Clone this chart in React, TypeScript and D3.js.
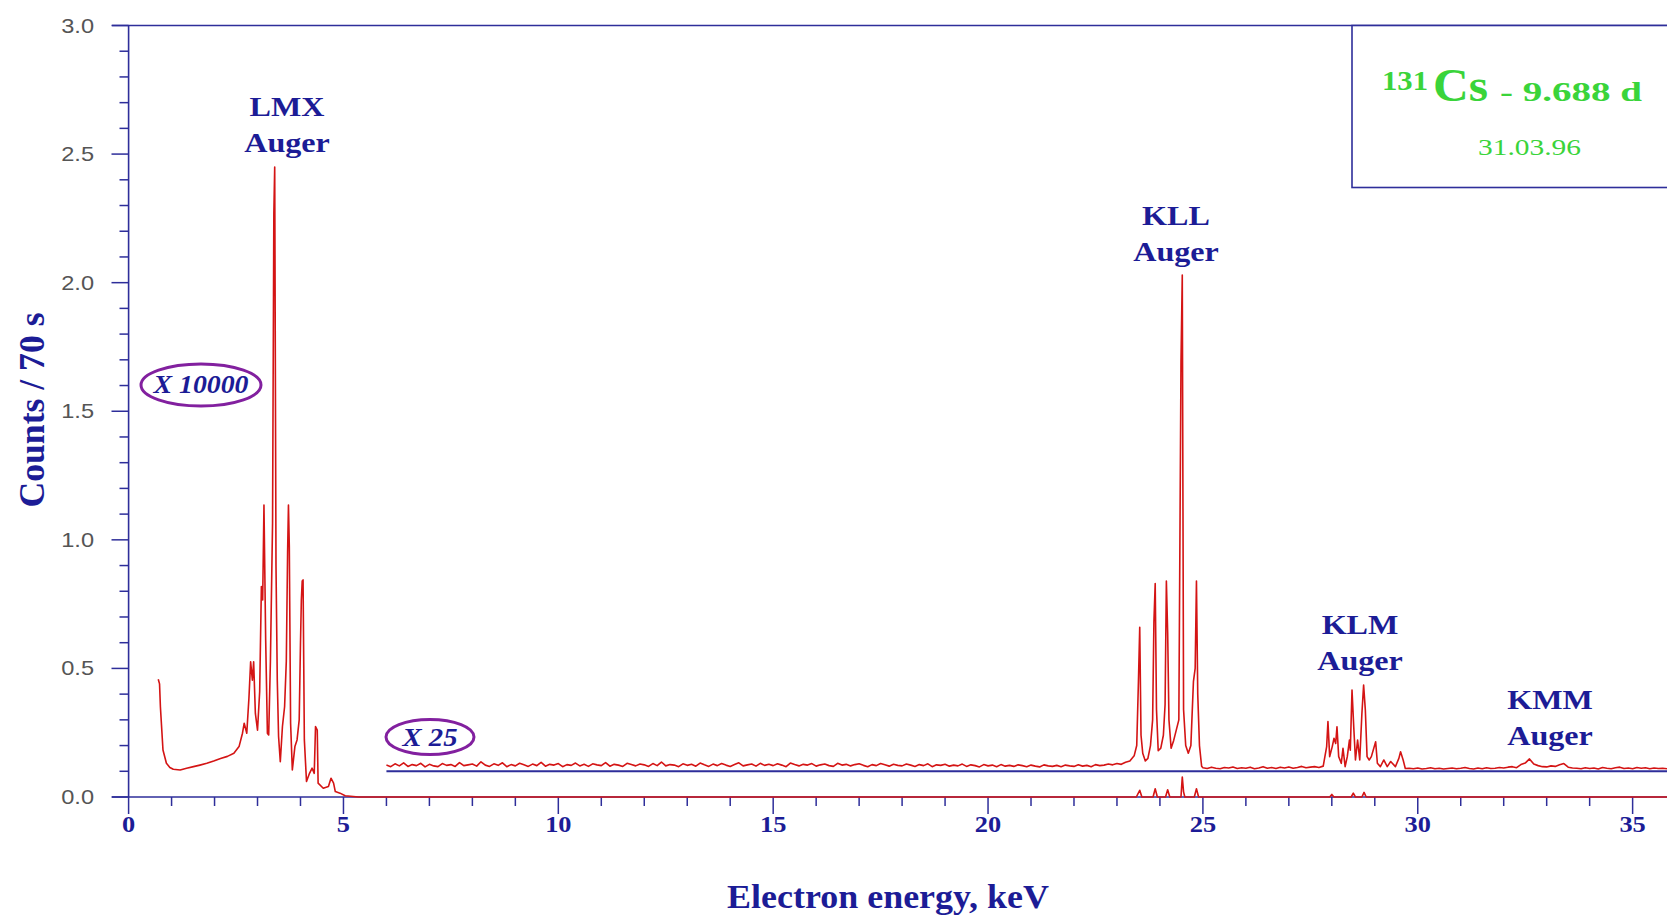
import React from "react";
import * as d3 from "d3";

const W = 1667;
const H = 918;
const MARGIN = { LEFT: 128.6, TOP: 25.5, BOTTOM: 797 };

// x10000 low-energy part (LMX Auger) that continues along zero as the raw spectrum
const lowEnergy: [number, number][] = [
  [0.69, 0.458], [0.72, 0.44], [0.74, 0.351], [0.8, 0.183], [0.88, 0.131], [0.96, 0.115],
  [1.04, 0.108], [1.2, 0.105], [1.35, 0.112], [1.51, 0.118], [1.66, 0.124], [1.82, 0.131],
  [1.98, 0.14], [2.14, 0.15], [2.3, 0.158], [2.45, 0.17], [2.57, 0.196], [2.65, 0.248],
  [2.69, 0.287], [2.75, 0.248], [2.8, 0.384], [2.84, 0.526], [2.88, 0.454], [2.91, 0.526],
  [2.95, 0.325], [3.0, 0.26], [3.05, 0.409], [3.09, 0.818], [3.12, 0.766], [3.15, 1.135],
  [3.19, 0.61], [3.23, 0.248], [3.26, 0.241], [3.3, 0.528], [3.35, 1.064], [3.38, 2.27],
  [3.4, 2.45], [3.43, 0.9], [3.46, 0.454], [3.49, 0.235], [3.53, 0.137], [3.58, 0.274],
  [3.63, 0.351], [3.67, 0.528], [3.7, 0.95], [3.72, 1.135], [3.74, 0.973], [3.77, 0.287],
  [3.81, 0.105], [3.87, 0.196], [3.92, 0.222], [3.97, 0.3], [4.0, 0.6], [4.02, 0.766],
  [4.04, 0.84], [4.06, 0.844], [4.09, 0.222], [4.14, 0.06], [4.21, 0.092], [4.27, 0.112],
  [4.32, 0.092], [4.35, 0.274], [4.39, 0.26], [4.41, 0.054], [4.53, 0.034], [4.65, 0.041],
  [4.71, 0.073], [4.77, 0.054], [4.81, 0.021], [4.92, 0.015], [5.04, 0.005], [5.35, 0.0],
  [23.45, 0], [23.53, 0.026], [23.58, 0], [23.84, 0], [23.89, 0.032], [23.94, 0],
  [24.13, 0], [24.18, 0.028], [24.23, 0], [24.49, 0], [24.52, 0.078], [24.55, 0.02],
  [24.58, 0], [24.8, 0], [24.85, 0.032], [24.9, 0], [27.95, 0], [28.0, 0.01], [28.05, 0],
  [28.45, 0], [28.5, 0.015], [28.55, 0], [28.7, 0], [28.75, 0.018], [28.8, 0], [35.8, 0],
];

// x25 part, offset by 0.1: flat stretches sampled every 0.1 keV
const noiseStartA = 6.0;
const noiseA = [
  0.124, 0.118, 0.129, 0.121, 0.133, 0.119, 0.126, 0.122, 0.131, 0.117,
  0.127, 0.121, 0.118, 0.13, 0.123, 0.126, 0.119, 0.134, 0.122, 0.125,
  0.128, 0.12, 0.137, 0.124, 0.119, 0.129, 0.123, 0.133, 0.118, 0.126,
  0.121, 0.131, 0.125, 0.119, 0.128, 0.122, 0.135, 0.12, 0.127, 0.124,
  0.13, 0.118, 0.126, 0.123, 0.132, 0.121, 0.127, 0.119, 0.129, 0.125,
  0.122, 0.134, 0.12, 0.127, 0.124, 0.119, 0.131, 0.126, 0.121, 0.128,
  0.125, 0.119, 0.13, 0.122, 0.136, 0.121, 0.126, 0.124, 0.118, 0.129,
  0.123, 0.127, 0.12, 0.132, 0.125, 0.119, 0.128, 0.122, 0.13, 0.124,
  0.119, 0.126, 0.133, 0.121, 0.125, 0.128, 0.12, 0.131, 0.123, 0.127,
  0.122, 0.129, 0.124, 0.118, 0.132, 0.126, 0.121, 0.127, 0.124, 0.13,
  0.12, 0.125, 0.128, 0.122, 0.119, 0.131, 0.124, 0.127, 0.121, 0.126,
  0.129, 0.123, 0.118, 0.126, 0.122, 0.13, 0.125, 0.12, 0.127, 0.123,
  0.121, 0.128, 0.124, 0.119, 0.126, 0.122, 0.129, 0.118, 0.125, 0.123,
  0.127, 0.12, 0.124, 0.121, 0.128, 0.119, 0.125, 0.122, 0.117, 0.126,
  0.121, 0.124, 0.118, 0.126, 0.12, 0.123, 0.119, 0.125, 0.122, 0.118,
  0.124, 0.12, 0.117, 0.125, 0.121, 0.119, 0.123, 0.118, 0.124, 0.121,
  0.119, 0.125, 0.12, 0.123, 0.118, 0.126, 0.122, 0.124, 0.128, 0.125,
  0.13, 0.127, 0.135,
];

const kllPeaks: [number, number][] = [
  [23.3, 0.14], [23.4, 0.16], [23.46, 0.2], [23.5, 0.45], [23.53, 0.66], [23.56, 0.24],
  [23.6, 0.17], [23.66, 0.14], [23.72, 0.15], [23.78, 0.2], [23.83, 0.3], [23.86, 0.68],
  [23.89, 0.83], [23.92, 0.34], [23.96, 0.18], [24.02, 0.19], [24.08, 0.24], [24.12, 0.36],
  [24.15, 0.84], [24.18, 0.64], [24.21, 0.3], [24.26, 0.19], [24.32, 0.22], [24.38, 0.26],
  [24.44, 0.3], [24.49, 1.69], [24.52, 2.03], [24.55, 0.34], [24.6, 0.2], [24.66, 0.17],
  [24.72, 0.2], [24.78, 0.45], [24.82, 0.5], [24.85, 0.84], [24.88, 0.4], [24.92, 0.2],
  [24.97, 0.12],
];

const noiseStartB = 25.0;
const noiseB = [
  0.114, 0.111, 0.116, 0.112, 0.11, 0.115, 0.113, 0.117, 0.111, 0.114,
  0.112, 0.116, 0.11, 0.113, 0.118, 0.112, 0.115, 0.111, 0.116, 0.113,
  0.117, 0.112, 0.115, 0.119, 0.114, 0.116, 0.118, 0.115,
];

const klmPeaks: [number, number][] = [
  [27.8, 0.12], [27.88, 0.196], [27.91, 0.293], [27.95, 0.157], [28.01, 0.196], [28.05, 0.228],
  [28.09, 0.208], [28.12, 0.273], [28.16, 0.157], [28.22, 0.131], [28.26, 0.189], [28.31, 0.118],
  [28.36, 0.157], [28.41, 0.221], [28.43, 0.182], [28.47, 0.416], [28.51, 0.273], [28.55, 0.144],
  [28.6, 0.221], [28.65, 0.144], [28.7, 0.325], [28.74, 0.435], [28.78, 0.338], [28.82, 0.157],
  [28.87, 0.144], [28.92, 0.157], [29.02, 0.215], [29.06, 0.131], [29.13, 0.118], [29.21, 0.144],
  [29.29, 0.118], [29.37, 0.138], [29.48, 0.118], [29.56, 0.15], [29.6, 0.176], [29.66, 0.144],
  [29.71, 0.111],
];

const noiseStartC = 29.8;
const noiseC = [
  0.112, 0.11, 0.113, 0.109, 0.111, 0.114, 0.11, 0.112, 0.109, 0.111,
  0.113, 0.11, 0.112, 0.115, 0.111, 0.109, 0.113, 0.11, 0.114, 0.111,
  0.112, 0.115, 0.113, 0.116, 0.118, 0.114, 0.126, 0.132, 0.148, 0.128,
  0.122, 0.118, 0.117, 0.121, 0.119, 0.125, 0.13, 0.116, 0.113, 0.112,
  0.11, 0.114, 0.111, 0.113, 0.109, 0.115, 0.112, 0.11, 0.114, 0.116,
  0.111, 0.113, 0.11, 0.115, 0.112, 0.114, 0.11, 0.113, 0.111, 0.112, 0.11,
];

const offsetLevel = 0.1;
const offsetStart = 6.0;

const xMajor = [0, 5, 10, 15, 20, 25, 30, 35];
const yMajor = [0, 0.5, 1.0, 1.5, 2.0, 2.5, 3.0];

const peakLabels = [
  { name: "LMX", x: 287, y: 116 },
  { name: "KLL", x: 1176, y: 225 },
  { name: "KLM", x: 1360, y: 634 },
  { name: "KMM", x: 1550, y: 709 },
];

const NAVY = "#1c1c96";
const AXIS = "#2e2e9a";
const RED = "#d41414";
const GREEN = "#3ad43a";
const PURPLE = "#82209f";
const SERIF = "'Liberation Serif', 'Times New Roman', serif";

const x = d3.scaleLinear().domain([0, 35.8]).range([MARGIN.LEFT, W]);
const y = d3.scaleLinear().domain([0, 3]).range([MARGIN.BOTTOM, MARGIN.TOP]);

const grid = (start: number, vals: number[]): [number, number][] =>
  vals.map((v, i) => [start + i * 0.1, v]);

const x25Series: [number, number][] = [
  ...grid(noiseStartA, noiseA),
  ...kllPeaks,
  ...grid(noiseStartB, noiseB),
  ...klmPeaks,
  ...grid(noiseStartC, noiseC),
];

const line = d3
  .line<[number, number]>()
  .x((d) => x(d[0]))
  .y((d) => y(d[1]));

const App = () => {
  const xMinor = d3.range(0, 36, 1).filter((v) => v % 5 !== 0);
  const yMinor = d3.range(1, 30).filter((v) => v % 5 !== 0).map((v) => v / 10);

  return (
    <div style={{ position: "absolute", left: 0, top: 0 }}>
      <svg width={W} height={H} style={{ display: "block", background: "#fff" }}>
        {/* frame */}
        <line x1={112} x2={W} y1={MARGIN.TOP} y2={MARGIN.TOP} stroke={AXIS} strokeWidth={1.6} />
        <line x1={MARGIN.LEFT} x2={MARGIN.LEFT} y1={MARGIN.TOP} y2={MARGIN.BOTTOM} stroke={AXIS} strokeWidth={1.6} />
        <line x1={112} x2={W} y1={MARGIN.BOTTOM} y2={MARGIN.BOTTOM} stroke={AXIS} strokeWidth={1.6} />

        {/* y ticks */}
        {yMajor.map((v) => (
          <g key={"ym" + v}>
            <line x1={111.5} x2={MARGIN.LEFT} y1={y(v)} y2={y(v)} stroke={AXIS} strokeWidth={1.5} />
            <text
              transform={`translate(94,${y(v) + 7}) scale(1.18,1)`}
              textAnchor="end"
              fontFamily="'Liberation Sans', Arial, sans-serif"
              fontSize={20}
              fill="#555"
            >
              {d3.format(".1f")(v)}
            </text>
          </g>
        ))}
        {yMinor.map((v) => (
          <line key={"yn" + v} x1={119.5} x2={MARGIN.LEFT} y1={y(v)} y2={y(v)} stroke={AXIS} strokeWidth={1.5} />
        ))}

        {/* x ticks */}
        {xMajor.map((v) => (
          <g key={"xm" + v}>
            <line x1={x(v)} x2={x(v)} y1={MARGIN.BOTTOM} y2={MARGIN.BOTTOM + 17} stroke={AXIS} strokeWidth={1.5} />
            <text
              transform={`translate(${x(v)},832) scale(1.1,1)`}
              textAnchor="middle"
              fontFamily={SERIF}
              fontWeight="bold"
              fontSize={24}
              fill={NAVY}
            >
              {v}
            </text>
          </g>
        ))}
        {xMinor.map((v) => (
          <line key={"xn" + v} x1={x(v)} x2={x(v)} y1={MARGIN.BOTTOM} y2={MARGIN.BOTTOM + 9} stroke={AXIS} strokeWidth={1.5} />
        ))}

        {/* axis titles */}
        <text
          x={888}
          y={908}
          textAnchor="middle"
          fontFamily={SERIF}
          fontWeight="bold"
          fontSize={34}
          fill={NAVY}
          textLength={322}
          lengthAdjust="spacingAndGlyphs"
        >
          Electron energy, keV
        </text>
        <text
          transform="translate(44,410) rotate(-90)"
          textAnchor="middle"
          fontFamily={SERIF}
          fontWeight="bold"
          fontSize={35}
          fill={NAVY}
          textLength={195}
          lengthAdjust="spacingAndGlyphs"
        >
          Counts / 70 s
        </text>

        {/* x25 offset baseline */}
        <line x1={x(offsetStart)} x2={W} y1={y(offsetLevel)} y2={y(offsetLevel)} stroke={AXIS} strokeWidth={2} />

        {/* spectra */}
        <path d={line(x25Series) || ""} fill="none" stroke={RED} strokeWidth={1.6} strokeLinejoin="round" />
        <path d={line(lowEnergy) || ""} fill="none" stroke={RED} strokeWidth={1.6} strokeLinejoin="round" />

        {/* peak labels */}
        {peakLabels.map((p) => (
          <g key={p.name} fontFamily={SERIF} fontWeight="bold" fontSize={27} fill={NAVY} textAnchor="middle">
            <text transform={`translate(${p.x},${p.y}) scale(1.19,1)`}>{p.name}</text>
            <text transform={`translate(${p.x},${p.y + 36}) scale(1.19,1)`}>Auger</text>
          </g>
        ))}

        {/* scale factor ellipses */}
        <ellipse cx={201} cy={385} rx={60} ry={21} fill="none" stroke={PURPLE} strokeWidth={3} />
        <text
          x={201}
          y={393}
          textAnchor="middle"
          fontFamily={SERIF}
          fontWeight="bold"
          fontStyle="italic"
          fontSize={25}
          fill={NAVY}
          textLength={95}
          lengthAdjust="spacingAndGlyphs"
        >
          X 10000
        </text>
        <ellipse cx={430} cy={737} rx={44} ry={17.5} fill="none" stroke={PURPLE} strokeWidth={3} />
        <text
          x={430}
          y={746}
          textAnchor="middle"
          fontFamily={SERIF}
          fontWeight="bold"
          fontStyle="italic"
          fontSize={26}
          fill={NAVY}
          textLength={55}
          lengthAdjust="spacingAndGlyphs"
        >
          X 25
        </text>

        {/* info box */}
        <rect x={1352} y={MARGIN.TOP} width={330} height={162} fill="#fff" stroke={AXIS} strokeWidth={1.6} />
        <g fontFamily={SERIF} fontWeight="bold" fill={GREEN}>
          <text x={1382} y={90} fontSize={27} textLength={46} lengthAdjust="spacingAndGlyphs">131</text>
          <text x={1433} y={101} fontSize={46} textLength={55} lengthAdjust="spacingAndGlyphs">Cs</text>
          <text x={1500} y={101} fontSize={28} textLength={142} lengthAdjust="spacingAndGlyphs">- 9.688 d</text>
          <text x={1478} y={155} fontSize={23} fontWeight="normal" textLength={103} lengthAdjust="spacingAndGlyphs">31.03.96</text>
        </g>
      </svg>
    </div>
  );
};

export default App;
